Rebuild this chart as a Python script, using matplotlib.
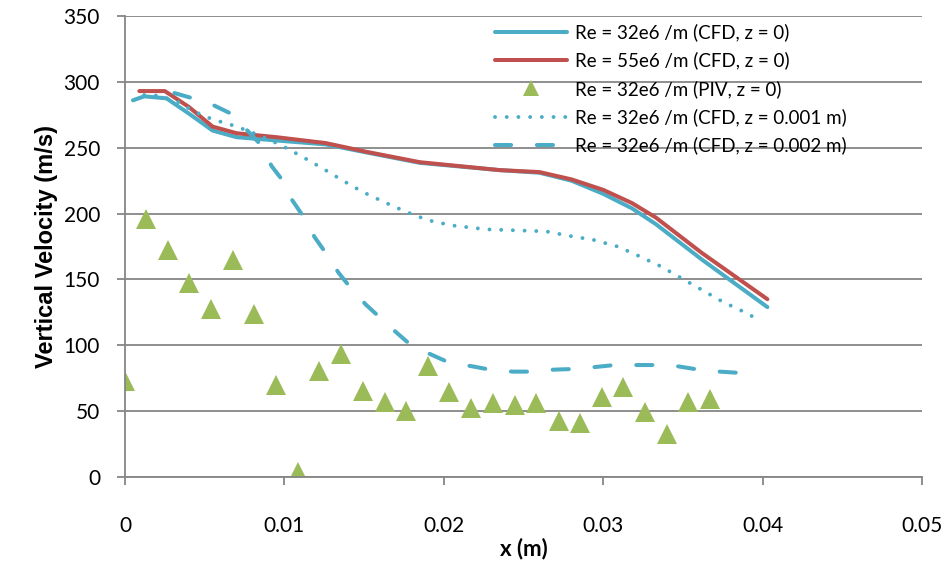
import matplotlib.pyplot as plt

# CFD, Re = 32e6 /m, z = 0
x_cfd32 = [0.0005, 0.0012, 0.0026, 0.004, 0.0055, 0.007, 0.0095, 0.0126, 0.0151, 0.0185,
           0.0235, 0.026, 0.028, 0.030, 0.0318, 0.0333, 0.0362, 0.0403]
v_cfd32 = [286, 289, 287.5, 276, 263, 258, 255.5, 252.5, 246.5, 238.5,
           233, 231, 225, 215, 204, 192, 165, 129]

# CFD, Re = 55e6 /m, z = 0
x_cfd55 = [0.0009, 0.0025, 0.004, 0.0055, 0.007, 0.0095, 0.0126, 0.0151, 0.0185,
           0.0235, 0.026, 0.028, 0.030, 0.0318, 0.0333, 0.0362, 0.0403]
v_cfd55 = [293, 293, 281, 266, 261, 258, 253.5, 247, 239,
           233, 231.5, 226, 218, 208, 197, 170, 135]

# PIV, Re = 32e6 /m, z = 0
x_piv = [0.0, 0.00133, 0.00269, 0.00404, 0.0054, 0.00677, 0.0081, 0.00948, 0.01085, 0.0122,
         0.01356, 0.0149, 0.0163, 0.01764, 0.019, 0.02035, 0.0217, 0.0231, 0.02446, 0.0258,
         0.0272, 0.02854, 0.0299, 0.03125, 0.03263, 0.03398, 0.03533, 0.0367]
v_piv = [73, 196, 172.5, 147, 127.5, 164.5, 123.5, 70, 4, 80.5,
         93.5, 65.5, 57, 50, 84.5, 64.5, 52.5, 56.5, 55, 56,
         42.5, 41, 60.5, 68, 49, 33, 57, 59.5]

# CFD, Re = 32e6 /m, z = 0.001 m
x_z1 = [0.0012, 0.0021, 0.0035, 0.0041, 0.0048, 0.0055, 0.0069, 0.0083, 0.0097, 0.011,
        0.0123, 0.0136, 0.0149, 0.0163, 0.0176, 0.019, 0.0205, 0.0227, 0.0264, 0.0279,
        0.0294, 0.0309, 0.0322, 0.0336, 0.0349, 0.0362, 0.0375, 0.0389, 0.0395]
v_z1 = [290, 289.5, 284, 279, 275, 271.5, 266.5, 260, 252.5, 244,
        235, 225.5, 216.5, 208.5, 201.5, 195, 191, 188, 186.5, 183,
        180, 175, 168, 160, 151, 142, 133, 125, 121]

# CFD, Re = 32e6 /m, z = 0.002 m
x_z2 = [0.0031, 0.0044, 0.0056, 0.0068, 0.0076, 0.0085, 0.0092, 0.0099, 0.0105, 0.0112,
        0.0119, 0.0126, 0.0134, 0.0141, 0.0151, 0.016, 0.017, 0.0179, 0.0192, 0.0203,
        0.0218, 0.0229, 0.0243, 0.0255, 0.0269, 0.0281, 0.0295, 0.0307, 0.0321, 0.0333,
        0.0347, 0.036, 0.0373, 0.0386]
v_z2 = [291.5, 287, 282, 275, 264, 252.5, 236, 225, 210, 197.5,
        182, 170, 155, 144.5, 131, 121, 110, 100.5, 93, 87,
        84, 81.5, 80, 80, 81.5, 82, 83.5, 85, 85, 85,
        84, 81.5, 80, 79]

blue = '#4BACC6'
red = '#C0504D'
green = '#9BBB59'
grey = '#868686'

plt.rcParams['font.family'] = ['Lato', 'DejaVu Sans']

fig = plt.figure(figsize=(9.47, 5.63), dpi=100)
ax = fig.add_axes([125 / 947, 1 - 477 / 563, (922 - 125) / 947, (477 - 16) / 563])

ax.plot(x_cfd32, v_cfd32, color=blue, lw=2.9, solid_capstyle='round',
        label='Re = 32e6 /m (CFD, z = 0)')
ax.plot(x_cfd55, v_cfd55, color=red, lw=2.9, solid_capstyle='round',
        label='Re = 55e6 /m (CFD, z = 0)')
ax.plot(x_piv, v_piv, ls='none', marker='^', ms=14, color=green, mew=0,
        label='Re = 32e6 /m (PIV, z = 0)')
ax.plot(x_z1, v_z1, color=blue, lw=2.8, ls=(0, (0.01, 3.0)), dash_capstyle='round',
        label='Re = 32e6 /m (CFD, z = 0.001 m)')
ax.plot(x_z2, v_z2, color=blue, lw=2.9, ls=(0, (4, 6.4)), dash_capstyle='round',
        label='Re = 32e6 /m (CFD, z = 0.002 m)')

ax.set_xlim(0, 0.05)
ax.set_ylim(0, 350)
ax.set_xticks([0, 0.01, 0.02, 0.03, 0.04, 0.05])
ax.set_xticklabels(['0', '0.01', '0.02', '0.03', '0.04', '0.05'])
ax.set_yticks(range(0, 351, 50))

ax.grid(axis='y', color=grey, lw=1.3)
ax.set_axisbelow(True)
for s in ['top', 'right']:
    ax.spines[s].set_visible(False)
for s in ['left', 'bottom']:
    ax.spines[s].set_color(grey)
    ax.spines[s].set_linewidth(1.3)
ax.tick_params(axis='both', colors=grey, labelcolor='black', labelsize=15,
               length=6, width=1.3, direction='out')
ax.tick_params(axis='y', pad=12)
ax.tick_params(axis='x', pad=22)

ax.set_xlabel('x (m)', fontsize=16, fontweight='bold', labelpad=1)
ax.set_ylabel('Vertical Velocity (m/s)', labelpad=4,
              fontdict={'family': 'Liberation Sans', 'weight': 'bold', 'size': 17})

leg = ax.legend(loc='upper right', frameon=False, fontsize=13.5, handlelength=3.8,
                handletextpad=0.45, labelspacing=0.55, borderaxespad=0.0,
                markerscale=0.8, bbox_to_anchor=(0.915, 1.0))

fig.savefig('out.png', dpi=100)
